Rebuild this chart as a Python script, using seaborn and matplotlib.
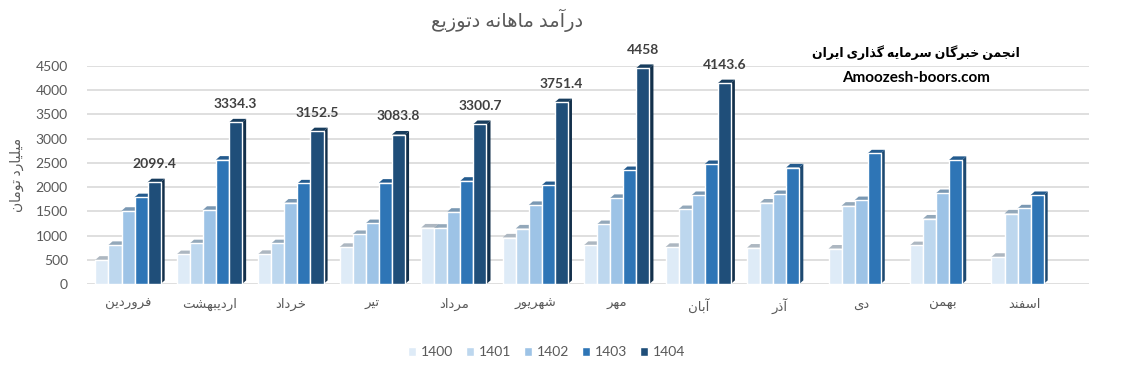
import pandas as pd
import matplotlib.pyplot as plt
import matplotlib.colors as mcolors
from matplotlib.patches import Polygon
import seaborn as sns

sns.set_theme(style="white")
plt.rcParams["font.family"] = ["Lato", "DejaVu Sans"]

# ---- data ----
months = ["فروردین", "اردیبهشت", "خرداد", "تیر", "مرداد", "شهریور",
          "مهر", "آبان", "آذر", "دی", "بهمن", "اسفند"]
years = ["1400", "1401", "1402", "1403", "1404"]

v1400 = [500, 615, 620, 765, 1165, 960, 805, 765, 750, 730, 800, 560]
v1401 = [805, 840, 840, 1030, 1160, 1145, 1235, 1545, 1680, 1615, 1350, 1455]
v1402 = [1510, 1530, 1680, 1255, 1490, 1630, 1775, 1835, 1855, 1730, 1875, 1560]
v1403 = [1790, 2565, 2075, 2090, 2130, 2040, 2350, 2475, 2405, 2695, 2560, 1835]
v1404 = [2099.4, 3334.3, 3152.5, 3083.8, 3300.7, 3751.4, 4458, 4143.6,
         None, None, None, None]

colors = ["#DEEBF7", "#BDD7EE", "#9DC3E6", "#2E75B6", "#1F4E79"]

title = "درآمد ماهانه دتوزیع"
ylabel = "میلیارد تومان"
brand_fa = "انجمن خبرگان سرمایه گذاری ایران"
brand_en = "Amoozesh-boors.com"

# ---- minimal persian shaping (matplotlib has no bidi / joining) ----
FORMS = {
    "ا": ("\uFE8D", "\uFE8E", None, None), "آ": ("\uFE81", "\uFE82", None, None),
    "د": ("\uFEA9", "\uFEAA", None, None), "ذ": ("\uFEAB", "\uFEAC", None, None),
    "ر": ("\uFEAD", "\uFEAE", None, None), "ز": ("\uFEAF", "\uFEB0", None, None),
    "و": ("\uFEED", "\uFEEE", None, None),
    "ب": ("\uFE8F", "\uFE90", "\uFE91", "\uFE92"), "پ": ("\uFB56", "\uFB57", "\uFB58", "\uFB59"),
    "ت": ("\uFE95", "\uFE96", "\uFE97", "\uFE98"), "ج": ("\uFE9D", "\uFE9E", "\uFE9F", "\uFEA0"),
    "خ": ("\uFEA5", "\uFEA6", "\uFEA7", "\uFEA8"), "س": ("\uFEB1", "\uFEB2", "\uFEB3", "\uFEB4"),
    "ش": ("\uFEB5", "\uFEB6", "\uFEB7", "\uFEB8"), "ع": ("\uFEC9", "\uFECA", "\uFECB", "\uFECC"),
    "ف": ("\uFED1", "\uFED2", "\uFED3", "\uFED4"), "ک": ("\uFB8E", "\uFB8F", "\uFB90", "\uFB91"),
    "گ": ("\uFB92", "\uFB93", "\uFB94", "\uFB95"), "ل": ("\uFEDD", "\uFEDE", "\uFEDF", "\uFEE0"),
    "م": ("\uFEE1", "\uFEE2", "\uFEE3", "\uFEE4"), "ن": ("\uFEE5", "\uFEE6", "\uFEE7", "\uFEE8"),
    "ه": ("\uFEE9", "\uFEEA", "\uFEEB", "\uFEEC"), "ی": ("\uFBFC", "\uFBFD", "\uFBFE", "\uFBFF"),
}


def fa(text):
    out = []
    for i, ch in enumerate(text):
        if ch not in FORMS:
            out.append(ch)
            continue
        prev = text[i - 1] if i > 0 else ""
        nxt = text[i + 1] if i + 1 < len(text) else ""
        join_prev = prev in FORMS and FORMS[prev][2] is not None
        join_next = FORMS[ch][2] is not None and nxt in FORMS
        iso, fin, ini, med = FORMS[ch]
        if join_prev and join_next:
            out.append(med)
        elif join_prev:
            out.append(fin)
        elif join_next:
            out.append(ini)
        else:
            out.append(iso)
    return "".join(reversed(out))


rows = []
for year, vals in zip(years, [v1400, v1401, v1402, v1403, v1404]):
    for m, v in zip(months, vals):
        if v is not None:
            rows.append({"month": m, "year": year, "value": v})
df = pd.DataFrame(rows)

fig = plt.figure(figsize=(11.22, 3.70), dpi=100)
ax = fig.add_axes([0.0778, 0.2324, 0.893, 0.5892])

sns.barplot(data=df, x="month", y="value", hue="year", order=months,
            hue_order=years, palette=dict(zip(years, colors)), saturation=1,
            errorbar=None, width=0.8, ax=ax, zorder=3)

ax.set_xlim(-0.5, 11.8)
ax.set_ylim(0, 4500)
ax.set_yticks(range(0, 4501, 500))
ax.yaxis.grid(True, color="#D9D9D9", linewidth=1.2, zorder=0)
ax.set_axisbelow(True)
sns.despine(ax=ax, left=True, bottom=True)

# fake 3d depth: side + top faces from each bar
dx, dy = 0.05, 75
for bars, col in zip(ax.containers, colors):
    rgb = mcolors.to_rgb(col)
    side = tuple(c * 0.62 for c in rgb)
    top = tuple(c * 0.78 for c in rgb)
    for p in bars:
        x, y, w, h = p.get_x(), p.get_y(), p.get_width(), p.get_height()
        ax.add_patch(Polygon([(x + w, y), (x + w + dx, y + dy), (x + w + dx, y + h + dy), (x + w, y + h)],
                             closed=True, facecolor=side, edgecolor="none", zorder=2.5, clip_on=False))
        ax.add_patch(Polygon([(x, y + h), (x + dx, y + h + dy), (x + w + dx, y + h + dy), (x + w, y + h)],
                             closed=True, facecolor=top, edgecolor="none", zorder=2.5, clip_on=False))

labels_1404 = [f"{v:g}" for v in v1404 if v is not None]
for t in ax.bar_label(ax.containers[4], labels=labels_1404, padding=9,
                      fontsize=10, fontweight="bold", color="#404040"):
    t.set_clip_on(False)

ax.set_xticks(range(len(months)))
ax.set_xticklabels([fa(m) for m in months], fontsize=9.5, color="#595959")
ax.tick_params(axis="x", pad=10, length=0)
ax.tick_params(axis="y", labelsize=10, labelcolor="#595959", length=0, pad=14)
ax.set_xlabel("")
ax.set_ylabel(fa(ylabel), fontsize=10, color="#595959", labelpad=8)

handles, labs = ax.get_legend_handles_labels()
ax.legend_.remove()
fig.legend(handles, labs, loc="center", bbox_to_anchor=(0.487, 0.048), ncol=5,
           frameon=False, fontsize=10, handlelength=0.6, handleheight=0.6,
           handletextpad=0.35, columnspacing=0.9, labelcolor="#595959")

fig.text(0.452, 0.945, fa(title), ha="center", va="center", fontsize=14, color="#595959")
fig.text(0.816, 0.857, fa(brand_fa), ha="center", va="center", fontsize=9,
         fontweight="bold", color="black")
fig.text(0.816, 0.79, brand_en, ha="center", va="center", fontsize=11,
         fontweight="bold", color="black")

fig.savefig("out.png", dpi=100)
